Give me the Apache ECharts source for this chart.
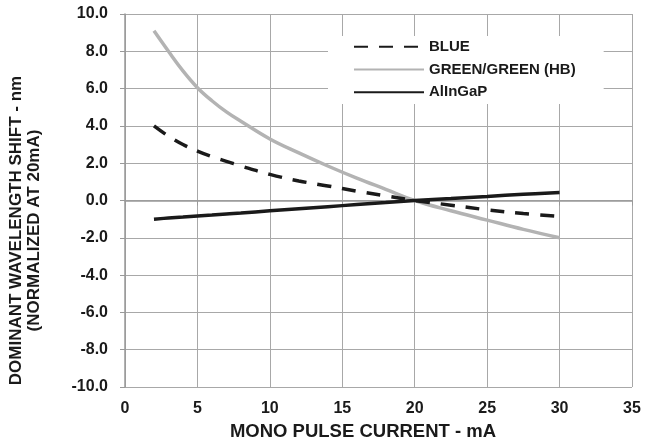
<!DOCTYPE html>
<html><head><meta charset="utf-8">
<script src="https://cdn.jsdelivr.net/npm/echarts@6/dist/echarts.min.js"></script>
<style>html,body{margin:0;padding:0;background:#fff}#c{width:665px;height:444px}</style>
</head><body><div id="c"></div>
<script>
const currents = [2, 3, 4, 5, 6, 7, 8, 10, 12, 14, 16, 18, 20, 22.5, 25, 27.5, 30];
const blue =    [4.0, 3.45, 3.0, 2.65, 2.35, 2.1, 1.85, 1.4, 1.05, 0.78, 0.5, 0.25, 0, -0.25, -0.5, -0.7, -0.85];
const green =   [9.1, 8.0, 6.95, 6.05, 5.35, 4.75, 4.25, 3.3, 2.55, 1.85, 1.2, 0.6, 0, -0.55, -1.05, -1.55, -2.0];
const alingap = [-1.0, -0.94, -0.89, -0.83, -0.78, -0.72, -0.67, -0.55, -0.44, -0.33, -0.22, -0.11, 0, 0.11, 0.22, 0.33, 0.43];
const seriesNames = ['BLUE', 'GREEN/GREEN (HB)', 'AlInGaP'];
const xTitle = 'MONO PULSE CURRENT - mA';
const yTitle = 'DOMINANT WAVELENGTH SHIFT - nm\n(NORMALIZED AT 20mA)';

const pairs = arr => currents.map((x, i) => [x, arr[i]]);
const font = 'Liberation Sans, Arial, sans-serif';
const chart = echarts.init(document.getElementById('c'), null, {renderer: 'canvas'});
chart.setOption({
  animation: false,
  backgroundColor: '#fff',
  grid: {left: 125, right: 33, top: 14, bottom: 57, containLabel: false, outerBoundsMode: 'none'},
  legend: {
    left: 328, top: 36, orient: 'vertical',
    backgroundColor: '#fff',
    padding: [2, 28, 3, 25],
    itemWidth: 70, itemHeight: 14, itemGap: 5.3,
    itemStyle: {color: 'rgba(0,0,0,0)', borderColor: 'rgba(0,0,0,0)', borderWidth: 0},
    textStyle: {fontFamily: font, fontWeight: 'bold', fontSize: 15, color: '#1a1a1a', lineHeight: 17.5},
    data: seriesNames
  },
  xAxis: {
    type: 'value', min: 0, max: 35, interval: 5,
    name: xTitle, nameLocation: 'middle', nameGap: 35,
    nameTextStyle: {fontFamily: font, fontWeight: 'bold', fontSize: 18.5, color: '#1a1a1a', padding: [0, 31, 0, 0]},
    axisLine: {show: true, lineStyle: {color: '#999', width: 1.5}},
    axisTick: {show: true, length: 5, lineStyle: {color: '#999'}},
    axisLabel: {fontFamily: font, fontWeight: 'bold', fontSize: 16, color: '#1a1a1a', margin: 14},
    splitLine: {show: true, lineStyle: {color: '#a8a8a8', width: 1}}
  },
  yAxis: {
    type: 'value', min: -10, max: 10, interval: 2,
    name: yTitle, nameLocation: 'middle', nameGap: 82,
    nameTextStyle: {fontFamily: font, fontWeight: 'bold', fontSize: 17, color: '#1a1a1a', lineHeight: 18, padding: [0, 60, 0, 0]},
    axisLine: {show: true, lineStyle: {color: '#999', width: 1.5}},
    axisTick: {show: true, length: 5, lineStyle: {color: '#999'}},
    axisLabel: {fontFamily: font, fontWeight: 'bold', fontSize: 16, color: '#1a1a1a', margin: 17,
      formatter: v => v.toFixed(1)},
    splitLine: {show: true, lineStyle: {color: '#a8a8a8', width: 1}}
  },
  series: [
    {name: seriesNames[0], type: 'line', data: pairs(blue), smooth: 0.4, symbol: 'none',
     lineStyle: {color: '#1a1a1a', width: 3.5, type: [14, 11], cap: 'butt'}, itemStyle: {color: '#1a1a1a'}, z: 4},
    {name: seriesNames[1], type: 'line', data: pairs(green), smooth: 0.4, symbol: 'none',
     lineStyle: {color: '#b3b3b3', width: 3.5}, itemStyle: {color: '#b3b3b3'}, z: 3},
    {name: seriesNames[2], type: 'line', data: pairs(alingap), smooth: 0.4, symbol: 'none',
     lineStyle: {color: '#1a1a1a', width: 3.5}, itemStyle: {color: '#1a1a1a'}, z: 5}
  ]
});
</script></body></html>
